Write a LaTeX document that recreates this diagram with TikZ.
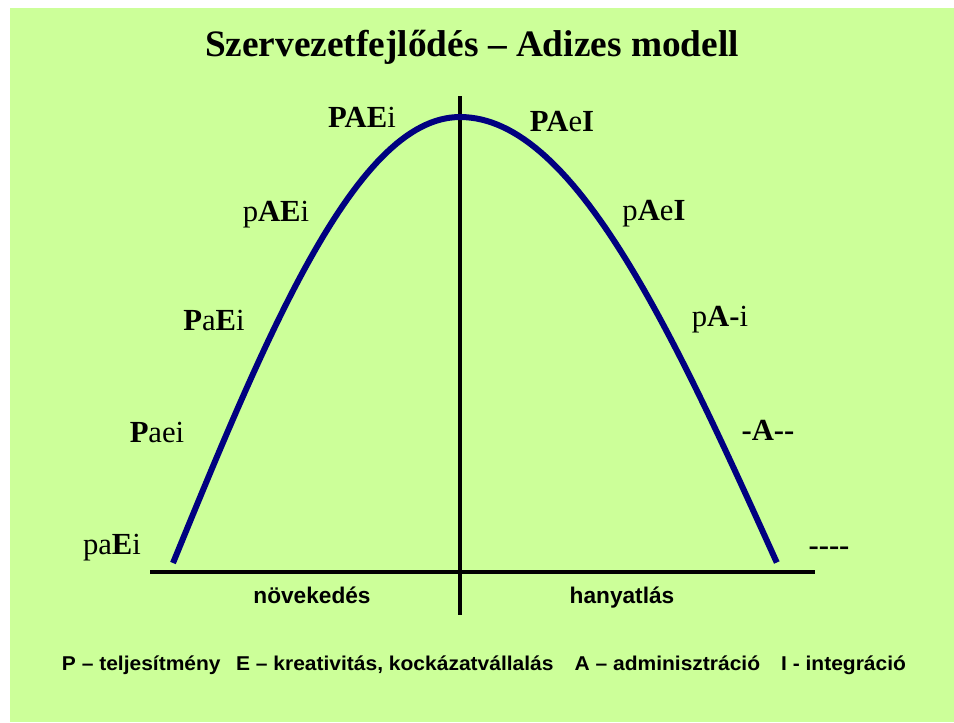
\documentclass[tikz,border=0pt]{standalone}
\usepackage{fontspec}
\setmainfont{Liberation Serif}[Ligatures=TeXOff]
\setsansfont{Liberation Sans}[Ligatures=TeXOff]
\definecolor{bg}{HTML}{CCFF99}
\definecolor{curve}{HTML}{000080}
\tikzset{
  lbl/.style={inner sep=0pt, font=\fontsize{23}{26}\selectfont},
  axis/.style={line width=2.4pt, black},
  sanslbl/.style={inner sep=0pt, anchor=base, font=\sffamily\bfseries\fontsize{17}{20}\selectfont},
}
\begin{document}
\begin{tikzpicture}[x=0.75pt,y=-0.75pt]
\useasboundingbox (0,0) rectangle (954,722);
\fill[bg] (10,8) rectangle (954,722);
% title
\node[inner sep=0pt, font=\bfseries\fontsize{28}{32}\selectfont] (title) at (472,47) {Szervezetfejlődés – Adizes modell};
% axes
\coordinate (vtop) at (460,96);
\coordinate (vbot) at (460,615);
\coordinate (hl) at (150,572);
\coordinate (hr) at (815,572);
\draw[axis] (vtop) -- (vbot);
\draw[axis] (hl) -- (hr);
% curve
\draw[curve, line width=4.5pt]
  plot[domain=0:1, samples=60] ({173+287*\x}, {563-446*sin(90*\x)})
  -- plot[domain=0:1, samples=60] ({460+317*\x}, {563-446*cos(90*\x)});
% labels left
\node[lbl] (l1) at (362,117) {\textbf{PAE}i};
\node[lbl] (l2) at (276,215) {p\textbf{AE}i};
\node[lbl] (l3) at (214,320) {\textbf{P}a\textbf{E}i};
\node[lbl] (l4) at (157,432) {\textbf{P}aei};
\node[lbl] (l5) at (112,548) {pa\textbf{E}i};
% labels right
\node[lbl] (r1) at (562,122) {\textbf{PA}e\textbf{I}};
\node[lbl] (r2) at (654,214) {p\textbf{A}e\textbf{I}};
\node[lbl] (r3) at (720,320) {p\textbf{A-}i};
\node[lbl] (r4) at (768,430) {\textbf{-A--}};
\node[lbl] (r5) at (829,551) {\textbf{----}};
% phase labels
\node[sanslbl] (grow) at (312,603) {növekedés};
\node[sanslbl] (decl) at (622,603) {hanyatlás};
% legend
\node[inner sep=0pt, font=\sffamily\bfseries\fontsize{15}{18}\selectfont] (legend) at (484,665)
  {\scalebox{1.05}[1]{P – teljesítmény\hspace{11pt}E – kreativitás, kockázatvállalás\hspace{15pt}A – adminisztráció\hspace{15pt}I - integráció}};
\end{tikzpicture}
\end{document}
